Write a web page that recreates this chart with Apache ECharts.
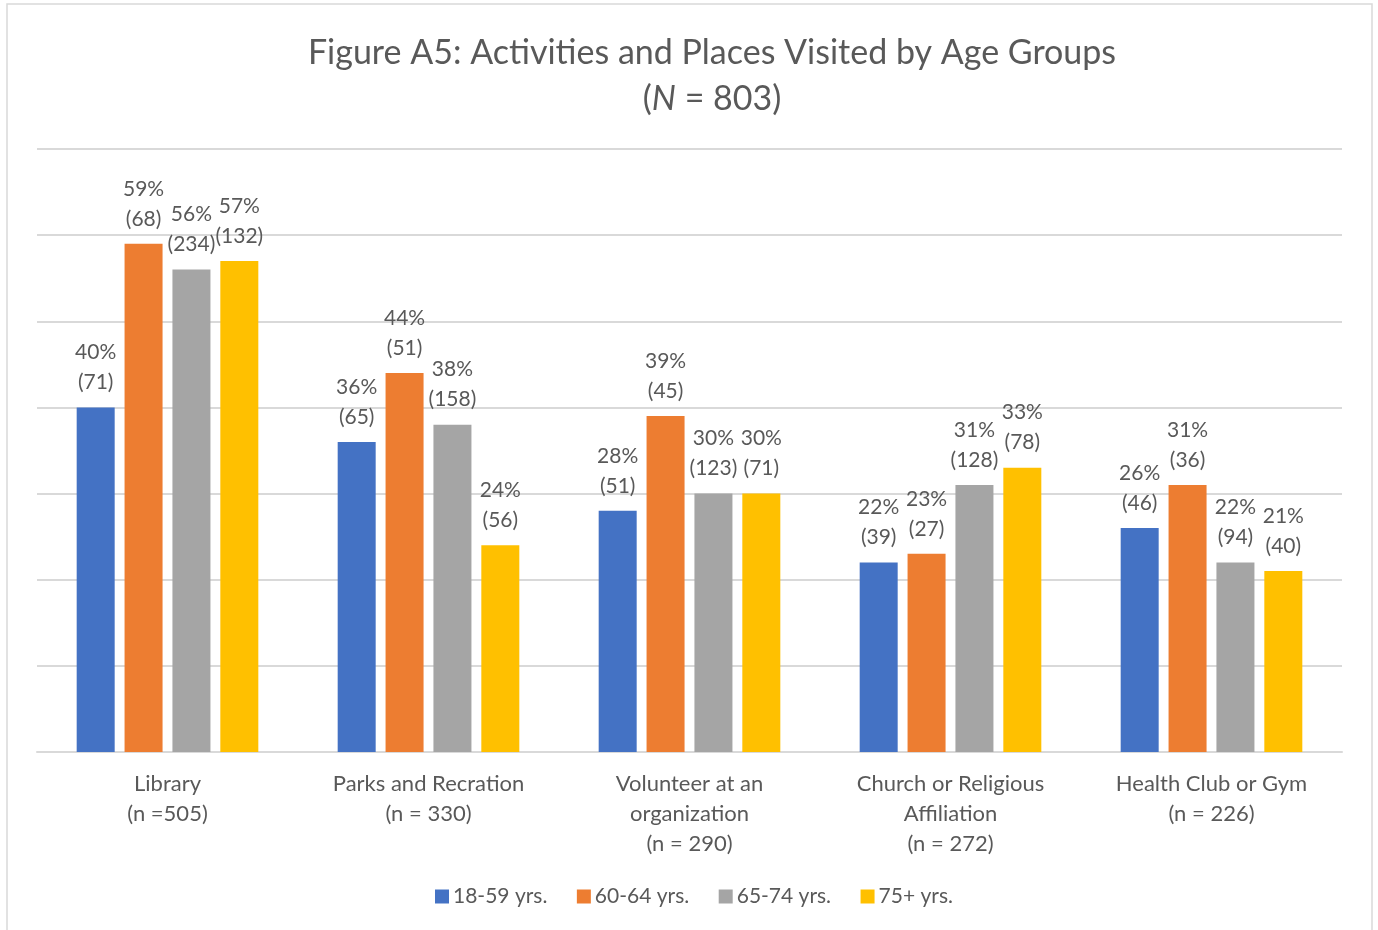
<!DOCTYPE html>
<html><head><meta charset="utf-8">
<script src="https://cdn.jsdelivr.net/npm/echarts@6/dist/echarts.min.js"></script>
<style>html,body{margin:0;padding:0;background:#fff}#c{width:1378px;height:930px}</style>
</head><body><div id="c"></div>
<script>
const categories = ['Library\n(n =505)', 'Parks and Recration\n(n = 330)', 'Volunteer at an\norganization\n(n = 290)', 'Church or Religious\nAffiliation\n(n = 272)', 'Health Club or Gym\n(n = 226)'];
const seriesNames = ['18-59 yrs.', '60-64 yrs.', '65-74 yrs.', '75+ yrs.'];
const pct18_59 = [40, 36, 28, 22, 26];
const pct60_64 = [59, 44, 39, 23, 31];
const pct65_74 = [56, 38, 30, 31, 22];
const pct75p = [57, 24, 30, 33, 21];
const cnt18_59 = [71, 65, 51, 39, 46];
const cnt60_64 = [68, 51, 45, 27, 36];
const cnt65_74 = [234, 158, 123, 128, 94];
const cnt75p = [132, 56, 71, 78, 40];
const colors = ['#4472C4', '#ED7D31', '#A5A5A5', '#FFC000'];

const FONT = 'Lato';
const TXT = '#595959';
const pcts = [pct18_59, pct60_64, pct65_74, pct75p];
const cnts = [cnt18_59, cnt60_64, cnt65_74, cnt75p];

const chart = echarts.init(document.getElementById('c'), null, {renderer: 'canvas'});
chart.setOption({
  animation: false,
  color: colors,
  graphic: [{type: 'rect', shape: {x: 7, y: 4, width: 1365, height: 940}, style: {fill: 'none', stroke: '#D9D9D9', lineWidth: 1.5}, silent: true}],
  title: {
    left: 707, top: 25, textAlign: 'center',
    text: '{a|Figure A5: Activities and Places Visited by Age Groups}\n{a|(}{i|N}{a| = 803)}',
    textStyle: {
      fontWeight: 'normal',
      rich: {
        a: {fontFamily: FONT, fontSize: 34, color: TXT, lineHeight: 46, fontWeight: 'normal'},
        i: {fontFamily: FONT, fontSize: 34, color: TXT, lineHeight: 46, fontStyle: 'italic', fontWeight: 'normal'}
      }
    }
  },
  legend: {
    bottom: 18, left: 430, itemWidth: 14, itemHeight: 14, itemGap: 29.5,
    icon: 'rect',
    textStyle: {fontFamily: FONT, fontSize: 21, color: TXT, padding: [0, 0, 0, -1]},
    data: seriesNames
  },
  grid: {left: 37, right: 36, top: 149, bottom: 178, containLabel: false},
  xAxis: {
    type: 'category', data: categories,
    axisLine: {lineStyle: {color: '#D9D9D9', width: 2}},
    axisTick: {show: false},
    axisLabel: {fontFamily: FONT, fontSize: 22, color: TXT, lineHeight: 30, margin: 17, interval: 0}
  },
  yAxis: {
    type: 'value', min: 0, max: 70, interval: 10,
    axisLabel: {show: false}, axisLine: {show: false}, axisTick: {show: false},
    splitLine: {lineStyle: {color: '#D9D9D9', width: 2}}
  },
  series: seriesNames.map((n, si) => ({
    name: n, type: 'bar', barWidth: 38, barGap: '26%',
    data: pcts[si].map((v, i) => ({value: v, cnt: cnts[si][i]})),
    label: {
      show: true, position: 'top', distance: 10,
      fontFamily: FONT, fontSize: 21, color: TXT, lineHeight: 30,
      formatter: p => p.value + '%\n(' + p.data.cnt + ')'
    }
  }))
});
</script></body></html>
